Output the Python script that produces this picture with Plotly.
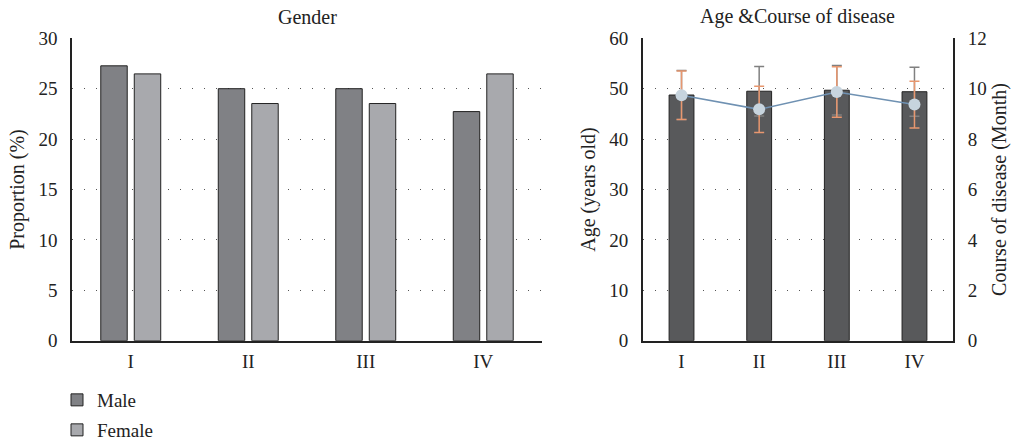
import plotly.graph_objects as go

groups = ["I", "II", "III", "IV"]
male = [27.27, 25.0, 25.0, 22.73]
female = [26.47, 23.53, 23.53, 26.47]

age_mean = [48.75, 49.5, 49.7, 49.4]
age_sd = [4.85, 4.9, 4.9, 4.85]
course_mean = [9.74, 9.18, 9.87, 9.37]
course_sd = [0.96, 0.92, 1.0, 0.93]

FONT = "Liberation Serif"
W, H = 1017, 442

def fx(px):
    return px / W

def fy(py):
    return 1 - py / H

fig = go.Figure()

fig.add_trace(go.Bar(x=groups, y=male, name="Male", marker=dict(color="#808185", line=dict(color="#222", width=1)),
                     xaxis="x", yaxis="y", legend="legend"))
fig.add_trace(go.Bar(x=groups, y=female, name="Female", marker=dict(color="#a8a9ad", line=dict(color="#222", width=1)),
                     xaxis="x", yaxis="y", legend="legend2"))

fig.add_trace(go.Bar(x=groups, y=age_mean, name="Age", showlegend=False,
                     marker=dict(color="#58595b", line=dict(color="#222", width=1)),
                     error_y=dict(type="data", array=age_sd, visible=True, color="#808080", thickness=1.5, width=5),
                     xaxis="x2", yaxis="y2", width=0.32))
fig.add_trace(go.Scatter(x=groups, y=course_mean, name="Course", showlegend=False, mode="lines+markers",
                         line=dict(color="#6f91b2", width=1.5),
                         marker=dict(color="#c7d4de", size=12),
                         error_y=dict(type="data", array=course_sd, visible=True, color="#e8976f", thickness=1.5, width=5),
                         xaxis="x2", yaxis="y3"))

tickfont = dict(family=FONT, size=19, color="#222")
titlefont = dict(family=FONT, size=20, color="#222")
grid = dict(showgrid=True, gridcolor="#555", gridwidth=1, griddash="1px,11px")
ydom = [fy(340.7), fy(38.3)]
common = dict(showline=True, linecolor="#222", linewidth=1.5, ticks="", tickfont=tickfont, automargin=False)
legfont = dict(family=FONT, size=19, color="#222")

fig.update_layout(
    width=W, height=H,
    margin=dict(l=0, r=0, t=0, b=0, autoexpand=False),
    paper_bgcolor="white", plot_bgcolor="white",
    font=dict(family=FONT, size=18, color="#222"),
    barmode="group", bargap=0.43, bargroupgap=0.21,
    xaxis=dict(domain=[fx(72), fx(542)], ticklabelstandoff=3, showgrid=False, **common),
    yaxis=dict(domain=ydom, range=[0, 30], dtick=5, ticklabelstandoff=9, zeroline=False,
               title=dict(text="Proportion (%)", font=titlefont, standoff=8), **grid, **common),
    xaxis2=dict(domain=[fx(642.7), fx(953.3)], anchor="y2", ticklabelstandoff=3, showgrid=False, **common),
    yaxis2=dict(domain=ydom, anchor="x2", range=[0, 60], dtick=10, ticklabelstandoff=9, zeroline=False,
                title=dict(text="Age (years old)", font=titlefont, standoff=8), **grid, **common),
    yaxis3=dict(overlaying="y2", anchor="x2", side="right", range=[0, 12], dtick=2, ticklabelstandoff=9,
                showgrid=False, zeroline=False,
                title=dict(text="Course of disease (Month)", font=titlefont, standoff=6), **common),
    legend=dict(x=fx(57), y=fy(400), xanchor="left", yanchor="middle", font=legfont,
                bgcolor="rgba(0,0,0,0)"),
    legend2=dict(x=fx(57), y=fy(430), xanchor="left", yanchor="middle", font=legfont,
                 bgcolor="rgba(0,0,0,0)"),
    annotations=[
        dict(text="Gender", x=fx(307), y=fy(17), xref="paper", yref="paper", showarrow=False,
             xanchor="center", yanchor="middle", font=dict(family=FONT, size=20)),
        dict(text="Age &Course of disease", x=fx(797), y=fy(17), xref="paper", yref="paper", showarrow=False,
             xanchor="center", yanchor="middle", font=dict(family=FONT, size=20)),
    ],
)

fig.write_html(
    "out.html",
    config={"displayModeBar": False},
    post_script="document.body.style.margin='0';document.body.style.overflow='hidden';",
)
